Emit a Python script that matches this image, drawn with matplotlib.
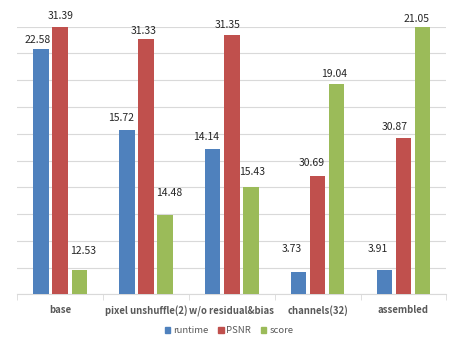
import numpy as np
import matplotlib
matplotlib.use('Agg')
import matplotlib.pyplot as plt
from matplotlib.patches import Patch

# data
categories = ['base', 'pixel unshuffle(2)', 'w/o residual&bias', 'channels(32)', 'assembled']
runtime = [22.58, 15.72, 14.14, 3.73, 3.91]
psnr = [31.39, 31.33, 31.35, 30.69, 30.87]
score = [12.53, 14.48, 15.43, 19.04, 21.05]

# each series sits on its own hidden axis
runtime_lim = (1.87, 24.45)
psnr_lim = (30.135, 31.39)
score_lim = (11.69, 21.05)

# label offsets in pixels (dx, dy above bar top), hand-placed like the original
runtime_off = [(-3, 9), (-6, 12), (-7, 12), (-7, 23), (-6, 21)]
psnr_off = [(0, 11), (-2, 8), (-4, 10), (-6, 13), (-9, 11)]
score_off = [(4, 19), (4, 22), (1, 15), (-3, 10), (-6, 8)]

colors = ['#4f81bd', '#c0504d', '#9bbb59']
plt.rcParams['font.family'] = ['Noto Sans CJK SC', 'DejaVu Sans']

fig = plt.figure(figsize=(4.58, 3.49), dpi=100)
ax = fig.add_axes([0.0378, 0.1567, 0.9367, 0.7668])
ax2 = ax.twinx()
ax3 = ax.twinx()

x = np.arange(len(categories))
step = 0.223
width = 0.18
series = [(ax, runtime, runtime_lim, runtime_off, -step),
          (ax2, psnr, psnr_lim, psnr_off, 0.0),
          (ax3, score, score_lim, score_off, step)]

for i, (a, vals, lim, offs, dx) in enumerate(series):
    bars = a.bar(x + dx, vals, width, color=colors[i], zorder=3)
    a.set_ylim(*lim)
    for b, v, (ox, oy) in zip(bars, vals, offs):
        a.annotate(f'{v:.2f}', (b.get_x() + b.get_width() / 2, v),
                   xytext=(ox * 0.72, oy * 0.72), textcoords='offset points',
                   ha='center', va='center', fontsize=7.5, color='#262626')
    for s in a.spines.values():
        s.set_visible(False)
    a.tick_params(axis='y', left=False, right=False, labelleft=False, labelright=False)

# gridlines: 10 even bands on the main axis
ax.set_yticks(np.linspace(runtime_lim[0], runtime_lim[1], 11))
ax.grid(axis='y', color='#d9d9d9', linewidth=0.8, zorder=0)
ax.set_axisbelow(True)
ax.spines['bottom'].set_visible(True)
ax.spines['bottom'].set_color('#d9d9d9')

ax.set_xlim(-0.5, len(categories) - 0.5)
ax.set_xticks(x)
ax.set_xticklabels(categories, fontsize=6.9, fontweight='bold', color='#595959')
ax.set_xticks(np.arange(-0.5, len(categories)), minor=True)
ax.tick_params(axis='x', which='major', length=0, pad=8)
ax.tick_params(axis='x', which='minor', length=4.5, color='#d9d9d9', direction='out')

handles = [Patch(color=c) for c in colors]
fig.legend(handles, ['runtime', 'PSNR', 'score'], loc='center',
           bbox_to_anchor=(229 / 458, 1 - 330.7 / 349), ncol=3, frameon=False,
           fontsize=6.8, handlelength=0.6, handleheight=0.6, handletextpad=0.3,
           columnspacing=1.0, labelcolor='#595959')

fig.savefig('out.png', dpi=100)
